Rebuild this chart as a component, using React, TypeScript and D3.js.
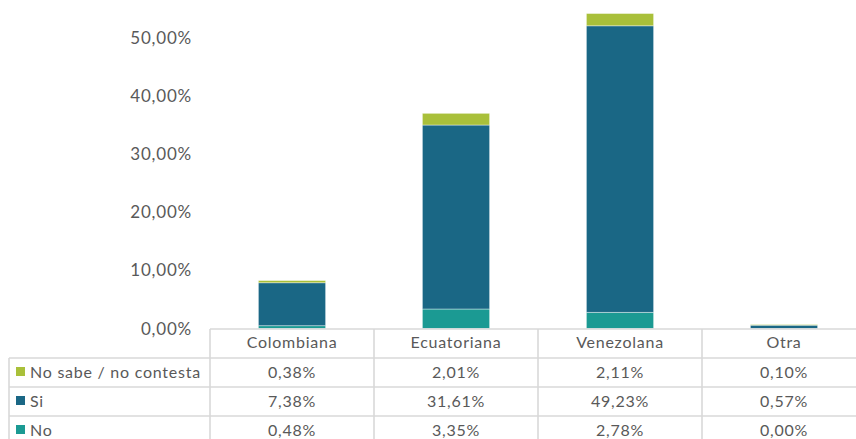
import React from "react";
import * as d3 from "d3";

const categories = ["Colombiana", "Ecuatoriana", "Venezolana", "Otra"];
const seriesNames = ["No sabe / no contesta", "Si", "No"];
const noSabe = [0.38, 2.01, 2.11, 0.1];
const si = [7.38, 31.61, 49.23, 0.57];
const no = [0.48, 3.35, 2.78, 0.0];
const yTicks = [0, 10, 20, 30, 40, 50];
const colors = ["#a9c03a", "#1a6785", "#1b9a93"];

const W = 856;
const H = 439;
const FONT = "Lato, 'Open Sans', sans-serif";
const TXT = "#595959";
const GRID = "#d9d9d9";

const fmt = (v: number) => v.toFixed(2).replace(".", ",") + "%";

export default function App() {
  const plotLeft = 210;
  const plotRight = 866;
  const y0 = 328.5;
  const y = d3.scaleLinear().domain([0, 50]).range([y0, 37.5]);
  const xCol = d3.scaleBand<string>().domain(categories).range([plotLeft, plotRight]).padding(0);
  const xBar = d3
    .scaleBand<string>()
    .domain(categories)
    .range([plotLeft, plotRight])
    .paddingInner(0.59)
    .paddingOuter(0.295);

  const rows = categories.map((c, i) => ({ cat: c, No: no[i], Si: si[i], NoSabe: noSabe[i] }));
  const keys = ["No", "Si", "NoSabe"];
  const keyColor: Record<string, string> = { No: colors[2], Si: colors[1], NoSabe: colors[0] };
  const stacked = d3.stack<any>().keys(keys)(rows);

  const tableTop = 329;
  const rowH = 29;
  const tableLeft = 9;
  const seriesRows = [
    { name: seriesNames[0], vals: noSabe, color: colors[0] },
    { name: seriesNames[1], vals: si, color: colors[1] },
    { name: seriesNames[2], vals: no, color: colors[2] },
  ];
  const ls = 0.75;

  return (
    <div style={{ position: "fixed", left: 0, top: 0, width: W, height: H, background: "#fff" }}>
      <svg width={W} height={H} style={{ display: "block", fontFamily: FONT }}>
        {yTicks.map((t) => (
          <text
            key={t}
            x={192}
            y={y(t) - 0.5}
            textAnchor="end"
            dominantBaseline="central"
            fontSize={17}
            letterSpacing={0.8}
            fill={TXT}
          >
            {fmt(t)}
          </text>
        ))}
        {stacked.map((layer) =>
          layer.map((d, i) => (
            <rect
              key={layer.key + i}
              x={xBar(categories[i])}
              width={xBar.bandwidth()}
              y={y(d[1])}
              height={Math.max(0, y(d[0]) - y(d[1]))}
              fill={keyColor[layer.key]}
              stroke="#ffffff"
              strokeOpacity={0.5}
              strokeWidth={0.8}
            />
          ))
        )}
        <g stroke={GRID} strokeWidth={1.6} fill="none">
          <line x1={plotLeft} x2={W} y1={tableTop} y2={tableTop} />
          {[1, 2, 3].map((r) => (
            <line key={r} x1={tableLeft} x2={W} y1={tableTop + r * rowH} y2={tableTop + r * rowH} />
          ))}
          <line x1={tableLeft} x2={tableLeft} y1={tableTop + rowH} y2={H} />
          {categories.map((c) => (
            <line key={c} x1={xCol(c)} x2={xCol(c)} y1={tableTop} y2={H} />
          ))}
        </g>
        {categories.map((c) => (
          <text
            key={c}
            x={(xCol(c) as number) + xCol.bandwidth() / 2}
            y={tableTop + rowH / 2 - 2}
            textAnchor="middle"
            dominantBaseline="central"
            fontSize={16}
            letterSpacing={ls}
            fill={TXT}
          >
            {c}
          </text>
        ))}
        {seriesRows.map((s, r) => {
          const cy = tableTop + (r + 1) * rowH + rowH / 2 - 1.5;
          return (
            <g key={s.name}>
              <rect x={16} y={cy - 4} width={9} height={9} fill={s.color} />
              <text x={30} y={cy} dominantBaseline="central" fontSize={16} letterSpacing={ls} fill={TXT}>
                {s.name}
              </text>
              {categories.map((c, i) => (
                <text
                  key={c}
                  x={(xCol(c) as number) + xCol.bandwidth() / 2}
                  y={cy}
                  textAnchor="middle"
                  dominantBaseline="central"
                  fontSize={16}
                  letterSpacing={ls}
                  fill={TXT}
                >
                  {fmt(s.vals[i])}
                </text>
              ))}
            </g>
          );
        })}
      </svg>
    </div>
  );
}
